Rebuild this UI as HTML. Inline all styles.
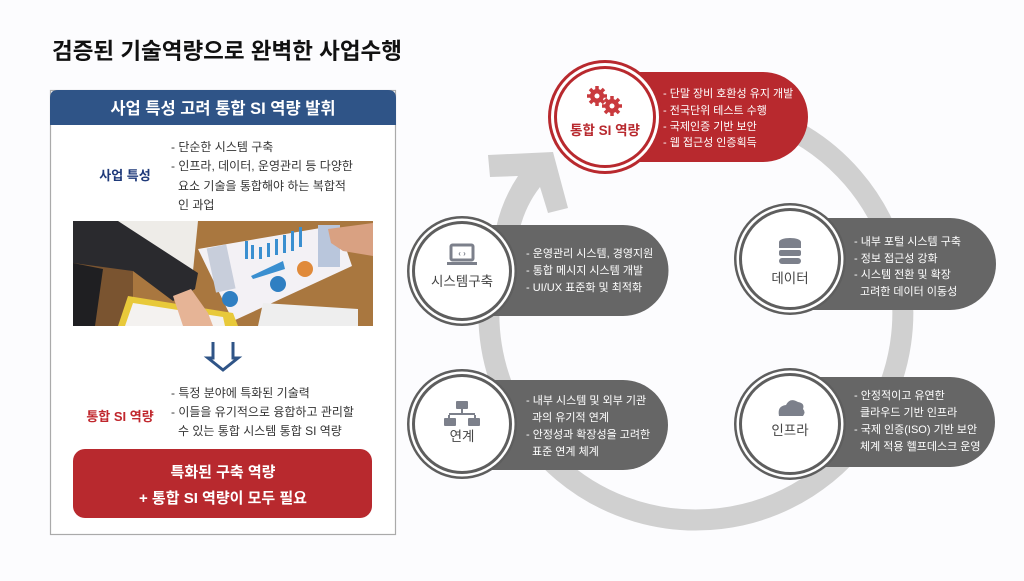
<!DOCTYPE html>
<html><head><meta charset="utf-8"><style>
html,body{margin:0;padding:0;background:#fcfcfe;}
body{width:1024px;height:576px;overflow:hidden;position:relative;font-family:"Liberation Sans","Noto Sans CJK KR",sans-serif;}
svg text{font-family:"Liberation Sans","Noto Sans CJK KR",sans-serif;}
</style></head><body>
<svg width="1024" height="576" viewBox="0 0 1024 576" xmlns="http://www.w3.org/2000/svg">
<rect width="1024" height="576" fill="#fcfcfe"/>
<text x="52" y="59" font-size="22.5" font-weight="bold" fill="#111">검증된 기술역량으로 완벽한 사업수행</text>

<!-- left panel -->
<rect x="50.5" y="90.5" width="345" height="444" fill="#fff" stroke="#aaa" stroke-width="1.2"/>
<path d="M50 125 V98 Q50 90 58 90 H388 Q396 90 396 98 V125 Z" fill="#2f5487"/>
<text x="223" y="114" font-size="16.5" font-weight="bold" fill="#fff" text-anchor="middle">사업 특성 고려 통합 SI 역량 발휘</text>
<text x="125" y="180" font-size="13" font-weight="bold" fill="#1f3a7a" text-anchor="middle">사업 특성</text>
<g font-size="12" fill="#333">
<text x="171" y="151">- 단순한 시스템 구축</text>
<text x="171" y="170">- 인프라, 데이터, 운영관리 등 다양한</text>
<text x="178" y="190">요소 기술을 통합해야 하는 복합적</text>
<text x="178" y="209">인 과업</text>
</g>
<!-- photo -->
<svg x="73" y="221" width="300" height="105" viewBox="0 0 300 105">
<rect width="300" height="105" fill="#a9773f"/>
<rect x="0" y="40" width="60" height="65" fill="#7a5430"/>
<polygon points="45,0 125,0 120,50 60,30" fill="#eeece8"/>
<polygon points="0,0 45,0 125,52 122,68 100,80 60,50 0,42" fill="#2a2a2e"/>
<polygon points="0,42 30,48 22,105 0,105" fill="#1f1f22"/>
<polygon points="125,28 265,4 279,45 160,100" fill="#f3f1f5"/>
<g fill="#3a8fd0"><rect x="172" y="20" width="3" height="18"/><rect x="178" y="24" width="3" height="14"/><rect x="186" y="26" width="3" height="12"/><rect x="194" y="22" width="3" height="14"/><rect x="202" y="18" width="3" height="16"/><rect x="210" y="14" width="3" height="18"/><rect x="218" y="10" width="3" height="20"/><rect x="226" y="6" width="3" height="20"/></g>
<polygon points="178,55 210,40 212,48 180,58" fill="#3a8fd0"/>
<rect x="138" y="25" width="20" height="45" fill="#c8cedb" transform="rotate(-12 148 47)"/>
<rect x="245" y="4" width="22" height="42" fill="#b9c6dc"/>
<circle cx="205" cy="63" r="8" fill="#2f7fc2"/><circle cx="232" cy="48" r="8" fill="#e08a3a"/><circle cx="157" cy="78" r="8" fill="#2f7fc2"/>
<polygon points="45,105 55,75 160,92 165,105" fill="#e8c93a"/>
<polygon points="52,105 60,82 150,96 152,105" fill="#f4f2f0"/>
<polygon points="190,82 285,88 285,105 185,105" fill="#eeeeee"/>
<polygon points="100,75 118,68 135,92 140,105 110,105" fill="#e6b496"/>
<polygon points="255,8 300,2 300,35 270,30 258,22" fill="#d9a182"/>
</svg>
<path d="M213 342 V358 H208 L223 370 L238 358 H233 V342" fill="none" stroke="#2f5487" stroke-width="3" stroke-linejoin="miter"/>
<text x="120" y="421" font-size="13" font-weight="bold" fill="#c0272d" text-anchor="middle">통합 SI 역량</text>
<g font-size="12" fill="#333">
<text x="171" y="397">- 특정 분야에 특화된 기술력</text>
<text x="171" y="416">- 이들을 유기적으로 융합하고 관리할</text>
<text x="178" y="435">수 있는 통합 시스템 통합 SI 역량</text>
</g>
<rect x="73" y="449" width="299" height="69" rx="12" fill="#b8292e"/>
<text x="223" y="477" font-size="15" font-weight="bold" fill="#fff" text-anchor="middle">특화된 구축 역량</text>
<text x="223" y="503" font-size="15" font-weight="bold" fill="#fff" text-anchor="middle">+ 통합 SI 역량이 모두 필요</text>

<!-- ring -->
<path d="M508 226 A207 207 0 1 0 696 106" fill="none" stroke="#d0d0d0" stroke-width="21"/>
<path d="M488 155 L553 152 L568 208 L548 213 L540 187 Q526 205 520 228 L496 228 Q502 200 518 176 L490 177 Z" fill="#d0d0d0"/>

<!-- top node -->
<path d="M605 72 H763 A45 45 0 0 1 763 162 H605 Z" fill="#b8292e"/>
<circle cx="605" cy="117" r="57" fill="#b8292e"/>
<circle cx="605" cy="117" r="54" fill="#fff"/>
<circle cx="605" cy="117" r="51" fill="#b8292e"/>
<circle cx="605" cy="117" r="48" fill="#fff"/>
<g fill="#c93a3e">
<circle cx="597" cy="96" r="7"/><circle cx="612" cy="106" r="7"/>
<g stroke="#c93a3e" stroke-width="3.5">
<path d="M597 86 V106 M587 96 H607 M590 89 L604 103 M604 89 L590 103"/>
<path d="M612 96 V116 M602 106 H622 M605 99 L619 113 M619 99 L605 113"/>
</g>
<circle cx="597" cy="96" r="2.5" fill="#fff"/><circle cx="612" cy="106" r="2.5" fill="#fff"/>
</g>
<text x="605" y="135" font-size="13.5" font-weight="bold" fill="#b8292e" text-anchor="middle">통합 SI 역량</text>
<g font-size="11" fill="#fff">
<text x="663" y="97">- 단말 장비 호환성 유지 개발</text>
<text x="663" y="114">- 전국단위 테스트 수행</text>
<text x="663" y="130">- 국제인증 기반 보안</text>
<text x="663" y="146">- 웹 접근성 인증획득</text>
</g>

<!-- gray nodes -->
<g>
<path d="M462 225 H623 A45.5 45.5 0 0 1 623 316 H462 Z" fill="#666"/>
<path d="M790 218 H950 A46 46 0 0 1 950 310 H790 Z" fill="#666"/>
<path d="M462 380 H623 A45 45 0 0 1 623 470 H462 Z" fill="#666"/>
<path d="M790 377 H950 A45 45 0 0 1 950 467 H790 Z" fill="#666"/>
</g>
<g>
<circle cx="462" cy="271" r="55" fill="#5e5e5e"/><circle cx="462" cy="271" r="52.5" fill="#fff"/><circle cx="462" cy="271" r="50" fill="#5e5e5e"/><circle cx="462" cy="271" r="47" fill="#fff"/>
<circle cx="790" cy="259" r="56" fill="#5e5e5e"/><circle cx="790" cy="259" r="53.5" fill="#fff"/><circle cx="790" cy="259" r="51" fill="#5e5e5e"/><circle cx="790" cy="259" r="48" fill="#fff"/>
<circle cx="462" cy="424" r="55" fill="#5e5e5e"/><circle cx="462" cy="424" r="52.5" fill="#fff"/><circle cx="462" cy="424" r="50" fill="#5e5e5e"/><circle cx="462" cy="424" r="47" fill="#fff"/>
<circle cx="790" cy="424" r="56" fill="#5e5e5e"/><circle cx="790" cy="424" r="53.5" fill="#fff"/><circle cx="790" cy="424" r="51" fill="#5e5e5e"/><circle cx="790" cy="424" r="48" fill="#fff"/>
</g>
<!-- icons -->
<g fill="#7c808b">
<rect x="451" y="245" width="22" height="15" rx="1.5" fill="none" stroke="#7c808b" stroke-width="3"/>
<rect x="447" y="262" width="30" height="3"/>
<text x="462" y="256" font-size="8" font-weight="bold" text-anchor="middle" fill="#7c808b">‹ ›</text>
<ellipse cx="790" cy="242" rx="11" ry="4"/><rect x="779" y="242" width="22" height="6"/>
<rect x="779" y="250" width="22" height="6" rx="2"/><rect x="779" y="258" width="22" height="6" rx="3"/>
<rect x="456" y="401" width="12" height="8" rx="1"/><rect x="461" y="409" width="2" height="5"/><rect x="449" y="413" width="26" height="2"/>
<rect x="448" y="415" width="2" height="4"/><rect x="474" y="415" width="2" height="4"/>
<rect x="444" y="418" width="12" height="8" rx="1"/><rect x="468" y="418" width="12" height="8" rx="1"/>
<path d="M779 416 Q777 406 786 405 Q790 397 798 402 Q805 403 803 409 Q806 412 803 416 Z"/>
</g>
<g font-size="13.5" fill="#444" text-anchor="middle">
<text x="462" y="286">시스템구축</text>
<text x="790" y="283">데이터</text>
<text x="462" y="441">연계</text>
<text x="790" y="435">인프라</text>
</g>
<g font-size="11" fill="#fff">
<text x="526" y="257">- 운영관리 시스템, 경영지원</text>
<text x="526" y="274">- 통합 메시지 시스템 개발</text>
<text x="526" y="291">- UI/UX 표준화 및 최적화</text>
<text x="854" y="245">- 내부 포털 시스템 구축</text>
<text x="854" y="262">- 정보 접근성 강화</text>
<text x="854" y="278">- 시스템 전환 및 확장</text>
<text x="860" y="295">고려한 데이터 이동성</text>
<text x="526" y="404">- 내부 시스템 및 외부 기관</text>
<text x="532" y="421">과의 유기적 연계</text>
<text x="526" y="438">- 안정성과 확장성을 고려한</text>
<text x="532" y="455">표준 연계 체계</text>
<text x="854" y="399">- 안정적이고 유연한</text>
<text x="860" y="416">클라우드 기반 인프라</text>
<text x="854" y="433">- 국제 인증(ISO) 기반 보안</text>
<text x="860" y="450">체계 적용 헬프데스크 운영</text>
</g>
</svg>
</body></html>
